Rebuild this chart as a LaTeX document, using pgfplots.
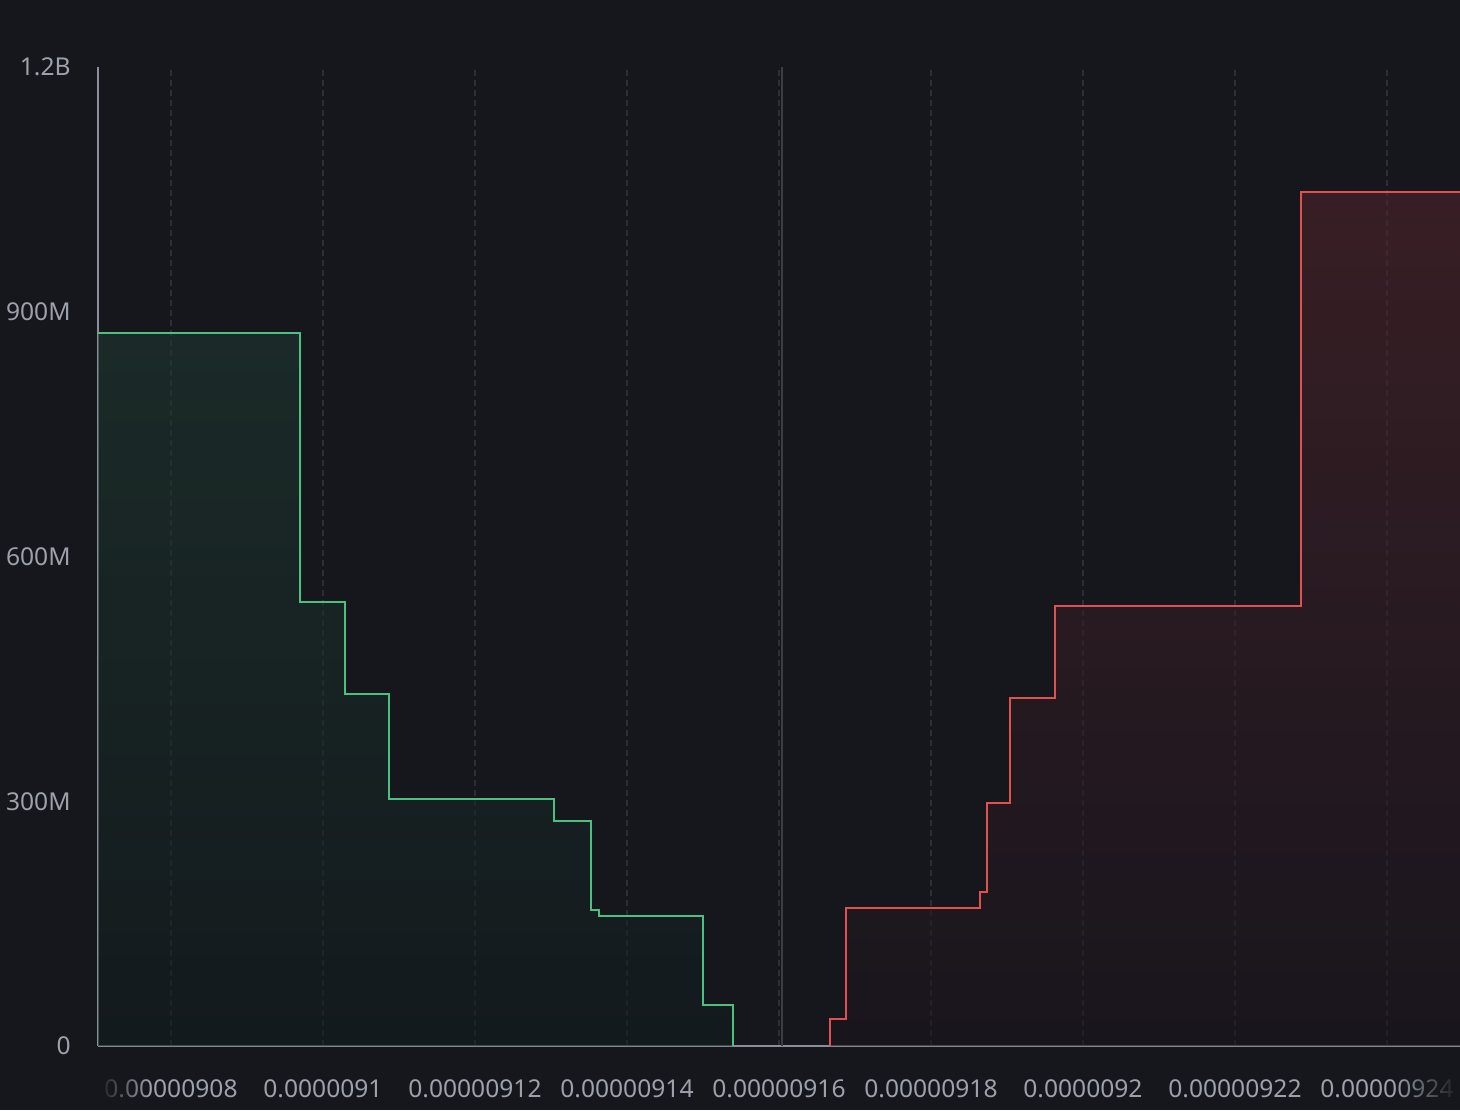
\documentclass[border=0pt]{standalone}
\usepackage{pgfplots}
\pgfplotsset{compat=1.18}
\usepackage{pgfplotstable}
\usepackage{fontspec}
\setmainfont{Noto Sans}
\usetikzlibrary{fadings}
\definecolor{bg}{HTML}{15171C}
\definecolor{axisc}{HTML}{8B8F99}
\definecolor{gridc}{HTML}{2C2F36}
\definecolor{midc}{HTML}{3B3D44}
\definecolor{labelc}{HTML}{9CA1AB}
\definecolor{bidc}{HTML}{4CC07E}
\definecolor{askc}{HTML}{E0524F}
\definecolor{bidtop}{HTML}{1F3830}
\definecolor{bidbot}{HTML}{131C1F}
\definecolor{asktop}{HTML}{4F242B}
\definecolor{askbot}{HTML}{1C151E}

\pgfplotstableread{
x y
907.04 874.3
909.701 544.2
910.289 431.5
910.868 302.8
913.039 275.8
913.530 167.1
913.632 159.0
915.004 50.3
915.399 0
}\bids

\pgfplotstableread{
x y
916.675 0
916.675 32.7
916.878 168.8
918.645 189.1
918.741 297.9
919.039 426.6
919.632 539.3
922.865 1046.4
924.961 1046.4
}\asks

\begin{document}
\begin{tikzpicture}
\path[use as bounding box, fill=bg] (0,0) rectangle (730pt,555pt);
\begin{axis}[
  at={(49pt,32pt)}, anchor=south west,
  scale only axis, width=681pt, height=489.5pt,
  xmin=907.04, xmax=924.961, ymin=0, ymax=1200,
  axis x line*=bottom, axis y line*=left,
  axis line style={color=axisc, line width=1pt},
  xtick={908,910,912,914,916,918,920,922,924},
  xticklabels={0.00000908,0.0000091,0.00000912,0.00000914,0.00000916,0.00000918,0.0000092,0.00000922,0.00000924},
  ytick={0,300,600,900,1200},
  yticklabels={0,300M,600M,900M,1.2B},
  major tick length=0pt,
  xmajorgrids,
  grid style={gridc, line width=0.9pt, dash pattern=on 3pt off 2pt},
  tick label style={font=\fontsize{12.3}{14}\selectfont, text=labelc},
  xticklabel style={anchor=center, inner sep=0pt, yshift=-21.25pt},
  yticklabel style={anchor=east, inner sep=0pt, xshift=-13.5pt},
]
\addplot[const plot, draw=none, top color=bidtop, bottom color=bidbot, fill opacity=0.6] table {\bids} \closedcycle;
\addplot[const plot, draw=none, top color=asktop, bottom color=askbot, fill opacity=0.6] table {\asks} \closedcycle;
\addplot[midc, line width=1pt] coordinates {(916.036,0) (916.036,1200)};
\addplot[const plot, bidc, line width=1pt] table {\bids};
\addplot[const plot, askc, line width=1pt] table {\asks};
\end{axis}
\fill[bg, path fading=east] (48pt,0pt) rectangle (75pt,23pt);
\fill[bg, path fading=west] (697pt,0pt) rectangle (730pt,23pt);
\end{tikzpicture}
\end{document}
